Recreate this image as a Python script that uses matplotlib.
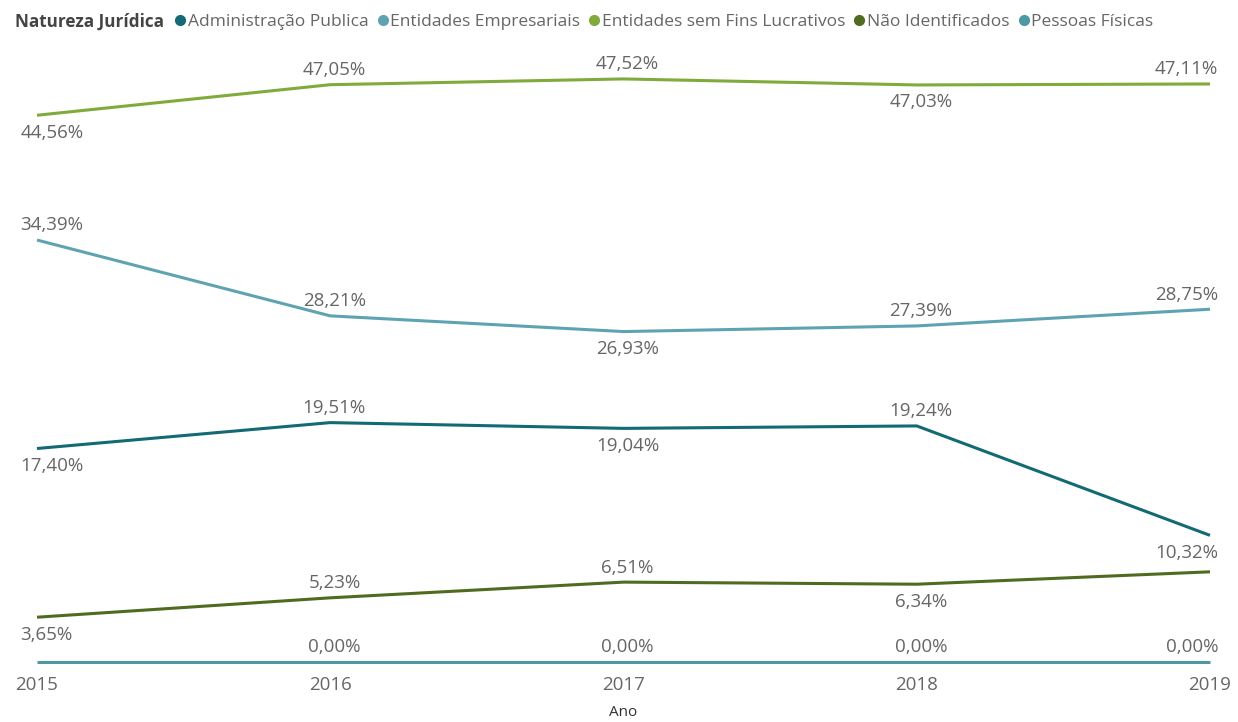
import matplotlib.pyplot as plt
from matplotlib.lines import Line2D

# Data (percent)
anos = [2015, 2016, 2017, 2018, 2019]
series = ['Administração Publica', 'Entidades Empresariais', 'Entidades sem Fins Lucrativos',
          'Não Identificados', 'Pessoas Físicas']
admin = [17.40, 19.51, 19.04, 19.24, 10.32]
empresariais = [34.39, 28.21, 26.93, 27.39, 28.75]
sem_fins = [44.56, 47.05, 47.52, 47.03, 47.11]
nao_ident = [3.65, 5.23, 6.51, 6.34, 7.35]
pessoas = [0.0, 0.0, 0.0, 0.0, 0.0]

cores = ['#136a74', '#5fa3b3', '#80ab3c', '#4f6b1f', '#4d98a2']

# label placement: 'a' above, 'b' below, None hidden
pos_admin = ['b', 'a', 'b', 'a', 'b']
pos_emp = ['a', 'a', 'b', 'a', 'a']
pos_sem = ['b', 'a', 'a', 'b', 'a']
pos_nao = ['b', 'a', 'a', 'b', None]
pos_pes = [None, 'a', 'a', 'a', 'a']

plt.rcParams['font.family'] = ['Open Sans', 'DejaVu Sans']

fig = plt.figure(figsize=(12.38, 7.22), dpi=100)
ax = fig.add_axes([37 / 1238, 60 / 722, 1173 / 1238, (50 * 12.27) / 722])

valores = [admin, empresariais, sem_fins, nao_ident, pessoas]
posicoes = [pos_admin, pos_emp, pos_sem, pos_nao, pos_pes]

for vals, cor in zip(valores, cores):
    ax.plot(anos, vals, color=cor, linewidth=2.2, solid_capstyle='butt', zorder=3, clip_on=False)

for vals, pos in zip(valores, posicoes):
    for ano, v, p in zip(anos, vals, pos):
        if p is None:
            continue
        txt = f'{v:.2f}%'.replace('.', ',')
        if ano == anos[0]:
            ha, dx = 'left', -12
        elif ano == anos[-1]:
            ha, dx = 'right', 6
        else:
            ha, dx = 'center', 3
        if p == 'a':
            va, dy = 'bottom', 4
        else:
            va, dy = 'top', 6
        ax.annotate(txt, (ano, v), xytext=(dx, dy if p == 'a' else -dy),
                    textcoords='offset points', ha=ha, va=va,
                    fontsize=13.5, color='#666666', zorder=4)

ax.set_xlim(2015, 2019)
ax.set_ylim(0, 50)
ax.set_xticks(anos)
ax.set_xticklabels([str(a) for a in anos], fontsize=13.5, color='#666666')
ax.tick_params(axis='x', length=0, pad=10)
ax.set_yticks([])
for s in ax.spines.values():
    s.set_visible(False)
ax.set_xlabel('Ano', fontsize=11, color='#333333', labelpad=8)

fig.text(15 / 1238, 1 - 22 / 722, 'Natureza Jurídica', fontsize=12.3, fontweight='bold',
         color='#444444', va='center', ha='left')
handles = [Line2D([], [], marker='o', linestyle='', color=c, markersize=7) for c in cores]
fig.legend(handles, series, loc='center left', bbox_to_anchor=(176 / 1238, 1 - 22 / 722),
           ncol=5, frameon=False, fontsize=12.5, handlelength=0.5, handletextpad=0.2,
           columnspacing=0.55, labelcolor='#666666', borderaxespad=0, borderpad=0)

fig.savefig('out.png', dpi=100, facecolor='white')
